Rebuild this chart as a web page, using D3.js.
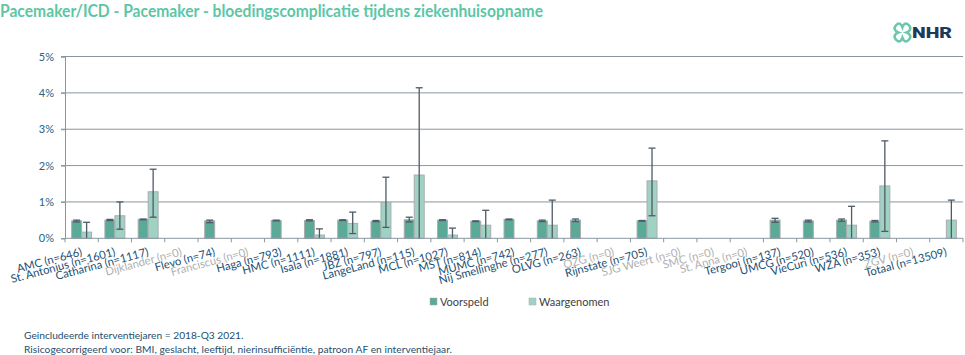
<!DOCTYPE html>
<html><head><meta charset="utf-8">
<script src="https://cdn.jsdelivr.net/npm/d3@7"></script>
<style>
body{margin:0;background:#fff;}
svg{display:block;font-family:Lato, "Open Sans", sans-serif;}
</style></head>
<body><svg id="chart" width="965" height="355"></svg>
<script>
const categories = ["AMC","St. Antonius","Catharina","Dijklander","Flevo","Franciscus","Haga","HMC","Isala","JBZ","LangeLand","MCL","MST","MUMC","Nij Smellinghe","OLVG","OZG","Rijnstate","SJG Weert","SMC","St. Anna","Tergooi","UMCG","VieCuri","WZA","ZGV","Totaal"];
const counts = [646,1601,1117,0,74,0,793,1111,1881,797,115,1027,814,742,277,263,0,705,0,0,0,137,520,536,353,0,13509];
const voorspeld      = [0.48,0.50,0.52,null,0.48,null,0.49,0.49,0.50,0.47,0.51,0.50,0.47,0.52,0.48,0.50,null,0.48,null,null,null,0.50,0.48,0.50,0.47,null,null];
const voorspeldLow   = [0.45,0.49,0.51,null,0.43,null,0.48,0.48,0.49,0.46,0.45,0.49,0.46,0.51,0.46,0.46,null,0.47,null,null,null,0.44,0.45,0.47,0.45,null,null];
const voorspeldHigh  = [0.50,0.52,0.53,null,0.50,null,0.50,0.51,0.51,0.49,0.58,0.51,0.48,0.53,0.50,0.53,null,0.49,null,null,null,0.55,0.50,0.53,0.49,null,null];
const waargenomen    = [0.17,0.62,1.28,null,0,null,0,0.09,0.41,0.99,1.74,0.09,0.36,0,0.36,0,null,1.58,null,null,null,0,0,0.36,1.44,null,0.50];
const waargenomenLow = [0,0.25,0.58,null,null,null,null,0,0.13,0.30,0,0,0,null,0,null,null,0.62,null,null,null,null,null,0,0.19,null,0];
const waargenomenHigh= [0.44,1.00,1.90,null,null,null,null,0.26,0.72,1.68,4.14,0.28,0.77,null,1.05,null,null,2.48,null,null,null,null,null,0.88,2.68,null,1.05];
const yTicks = [0,1,2,3,4,5];
const seriesNames = ["Voorspeld","Waargenomen"];
const colors = {Voorspeld:"#5ba997", Waargenomen:"#a0d2c4"};

const svg = d3.select("#chart");
const plotLeft = 65, plotRight = 963, plotTop = 56.5, plotBottom = 238.3;

const x = d3.scaleBand().domain(categories).range([plotLeft, plotRight]).paddingInner(0).paddingOuter(0);
const y = d3.scaleLinear().domain([0,5]).range([plotBottom, plotTop]);
const barW = x.bandwidth()*0.3;
const sub = d3.scaleBand().domain(seriesNames).range([0, barW*2]);

// Title
svg.append("text").attr("x",0).attr("y",17).attr("fill","#5cc6a6")
  .attr("font-size",16.5).attr("font-weight",700)
  .attr("textLength",543).attr("lengthAdjust","spacingAndGlyphs")
  .text("Pacemaker/ICD - Pacemaker - bloedingscomplicatie tijdens ziekenhuisopname");

// Logo
const logo = svg.append("g").attr("transform","translate(893,23) scale(1.05)");
logo.append("path")
  .attr("d","M3,2 C0,5 2,8 5,9 C2,10 0,13 3,16 C6,19 8,17 9,14 C10,17 12,19 15,16 C18,13 16,10 13,9 C16,8 18,5 15,2 C12,-1 10,1 9,4 C8,1 6,-1 3,2 Z")
  .attr("fill","none").attr("stroke","#6cc7ad").attr("stroke-width",2.4);
svg.append("text").attr("x",912).attr("y",38).attr("fill","#1d3a5a")
  .attr("font-size",14).attr("font-weight",900).attr("font-family","Roboto, Lato, sans-serif")
  .attr("textLength",40).attr("lengthAdjust","spacingAndGlyphs").text("NHR");

// Gridlines
svg.append("g").selectAll("line").data(yTicks.filter(d=>d>0)).join("line")
  .attr("x1",plotLeft-4).attr("x2",plotRight).attr("y1",d=>y(d)).attr("y2",d=>y(d))
  .attr("stroke","#8a969f").attr("stroke-width",1);

// Y axis
const yAxis = d3.axisLeft(y).tickValues(yTicks).tickFormat(d=>d+"%").tickSize(4).tickPadding(7);
const yg = svg.append("g").attr("transform",`translate(${plotLeft},0)`).call(yAxis);
yg.select(".domain").attr("stroke","#8a969f");
yg.selectAll(".tick line").attr("stroke","#8a969f");
yg.selectAll("text").attr("fill","#2b5f7f").attr("font-size",11).attr("font-family","Lato, sans-serif");

// Bars
const rows = categories.map((c,i)=>({c, i}));
function drawSeries(name, vals, lo, hi){
  const g = svg.append("g");
  g.selectAll("rect").data(rows.filter(r=>vals[r.i]!==null && vals[r.i]>0)).join("rect")
    .attr("x",r=>x(r.c)+x.bandwidth()/2-barW+sub(name))
    .attr("width",sub.bandwidth())
    .attr("y",r=>y(vals[r.i]))
    .attr("height",r=>y(0)-y(vals[r.i]))
    .attr("fill",colors[name]).attr("stroke","#a8adb0").attr("stroke-width",1);
  const e = rows.filter(r=>hi[r.i]!==null);
  const cx = r=>x(r.c)+x.bandwidth()/2-barW+sub(name)+sub.bandwidth()/2;
  const eg = svg.append("g").attr("stroke","#4f5b66").attr("stroke-width",1.3);
  eg.selectAll(".v").data(e).join("line").attr("x1",cx).attr("x2",cx)
    .attr("y1",r=>y(lo[r.i])).attr("y2",r=>y(hi[r.i]));
  eg.selectAll(".t").data(e).join("line").attr("x1",r=>cx(r)-3.5).attr("x2",r=>cx(r)+3.5)
    .attr("y1",r=>y(hi[r.i])).attr("y2",r=>y(hi[r.i]));
  eg.selectAll(".b").data(e.filter(r=>lo[r.i]>0)).join("line").attr("x1",r=>cx(r)-3.5).attr("x2",r=>cx(r)+3.5)
    .attr("y1",r=>y(lo[r.i])).attr("y2",r=>y(lo[r.i]));
}
drawSeries("Voorspeld", voorspeld, voorspeldLow, voorspeldHigh);
drawSeries("Waargenomen", waargenomen, waargenomenLow, waargenomenHigh);

// X axis
const xg = svg.append("g").attr("transform",`translate(0,${plotBottom})`);
xg.append("line").attr("x1",plotLeft).attr("x2",plotRight).attr("stroke","#8a969f");
const bounds = d3.range(categories.length+1).map(i=> i<categories.length ? x(categories[i]) : plotRight);
xg.selectAll(".tk").data(bounds).join("line").attr("x1",d=>d).attr("x2",d=>d).attr("y1",0).attr("y2",4).attr("stroke","#8a969f");
xg.selectAll("text").data(rows).join("text")
  .attr("transform",r=>`translate(${x(r.c)+x.bandwidth()/2+1},17) rotate(-15)`)
  .attr("text-anchor","end").attr("font-size",11.3)
  .attr("fill",r=>counts[r.i]===0?"#b0b0b0":"#1c4f72")
  .text(r=>`${r.c} (n=${counts[r.i]})`);

// Legend
const lg = svg.append("g").attr("transform","translate(430,297)");
seriesNames.forEach((n,i)=>{
  const gx = i*99;
  lg.append("rect").attr("x",gx).attr("y",1).attr("width",7).attr("height",7).attr("fill",colors[n]).attr("stroke","#a8adb0").attr("stroke-width",0.5);
  lg.append("text").attr("x",gx+10).attr("y",8.5).attr("font-size",11).attr("fill","#404040").text(n);
});

// Footnotes
svg.append("text").attr("x",24).attr("y",339).attr("font-size",10.2).attr("fill","#1f4e6e").text("Geincludeerde interventiejaren = 2018-Q3 2021.");
svg.append("text").attr("x",24).attr("y",353).attr("font-size",10.2).attr("fill","#1f4e6e")
  .attr("textLength",428).attr("lengthAdjust","spacing")
  .text("Risicogecorrigeerd voor: BMI, geslacht, leeftijd, nierinsufficiëntie, patroon AF en interventiejaar.");
</script></body></html>
